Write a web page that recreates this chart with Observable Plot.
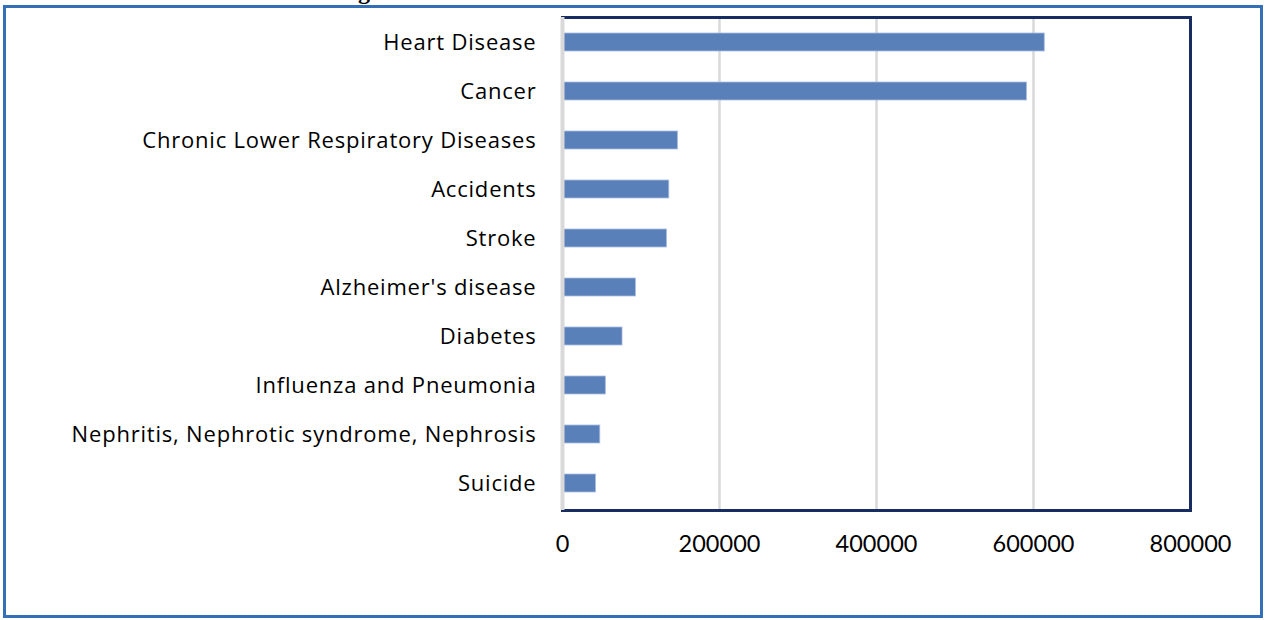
<!DOCTYPE html>
<html>
<head>
<meta charset="utf-8">
<script src="https://cdn.jsdelivr.net/npm/d3@7"></script>
<script src="https://cdn.jsdelivr.net/npm/@observablehq/plot@0.6"></script>
<style>
  html, body { margin: 0; padding: 0; background: #fff; }
  #wrap { position: relative; width: 1266px; height: 620px; overflow: hidden; background: #fff; }
  #outer { position: absolute; left: 3px; top: 5px; width: 1254px; height: 607px; border: 3px solid #3470b8; pointer-events: none; }
  #title { position: absolute; right: 896px; top: -21px; font: bold 24px "Liberation Serif", serif; line-height: 24px; color: #000; white-space: nowrap; }
  #chart { position: absolute; left: 0; top: 0; }
  .ylab text { letter-spacing: 0.8px; }
</style>
</head>
<body>
<div id="wrap">
  <div id="title">Leading</div>
  <div id="chart"></div>
  <div id="outer"></div>
</div>
<script>
const causes = [
  "Heart Disease",
  "Cancer",
  "Chronic Lower Respiratory Diseases",
  "Accidents",
  "Stroke",
  "Alzheimer's disease",
  "Diabetes",
  "Influenza and Pneumonia",
  "Nephritis, Nephrotic syndrome, Nephrosis",
  "Suicide"
];
const deaths = [614348, 591699, 147101, 136053, 133103, 93541, 76488, 55227, 48146, 42773];
const xTicks = [0, 200000, 400000, 600000, 800000];
const gridTicks = [200000, 400000, 600000];

const data = causes.map((c, i) => ({cause: c, deaths: deaths[i]}));

const chart = Plot.plot({
  width: 1266,
  height: 620,
  marginLeft: 562,
  marginRight: 76,
  marginTop: 17,
  marginBottom: 110,
  style: {fontFamily: "'Open Sans', sans-serif", fontSize: "22px", color: "#000", background: "transparent"},
  x: {domain: [0, 800000], ticks: xTicks, tickFormat: d => String(d), label: null},
  y: {domain: causes, range: [16.4, 509.2], paddingInner: 0.635, paddingOuter: 0.3175, label: null},
  marks: [
    Plot.ruleX(gridTicks, {stroke: "#d9d9d9", strokeWidth: 2.5}),
    Plot.barX(data, {x: "deaths", y: "cause", fill: "#5a80ba", stroke: "#a9bde0", strokeWidth: 0.8}),
    Plot.frame({stroke: "#172c60", strokeWidth: 3}),
    Plot.ruleX([0], {stroke: "#d9d9d9", strokeWidth: 4}),
    Plot.axisX({ticks: xTicks, tickFormat: d => String(d), tickSize: 0, tickPadding: 25, fontSize: 23.5, fontFamily: "Lato, sans-serif", label: null}),
    Plot.axisY({tickSize: 0, tickPadding: 26, fontSize: 22, className: "ylab", label: null})
  ]
});
document.getElementById("chart").appendChild(chart);
</script>
</body>
</html>
